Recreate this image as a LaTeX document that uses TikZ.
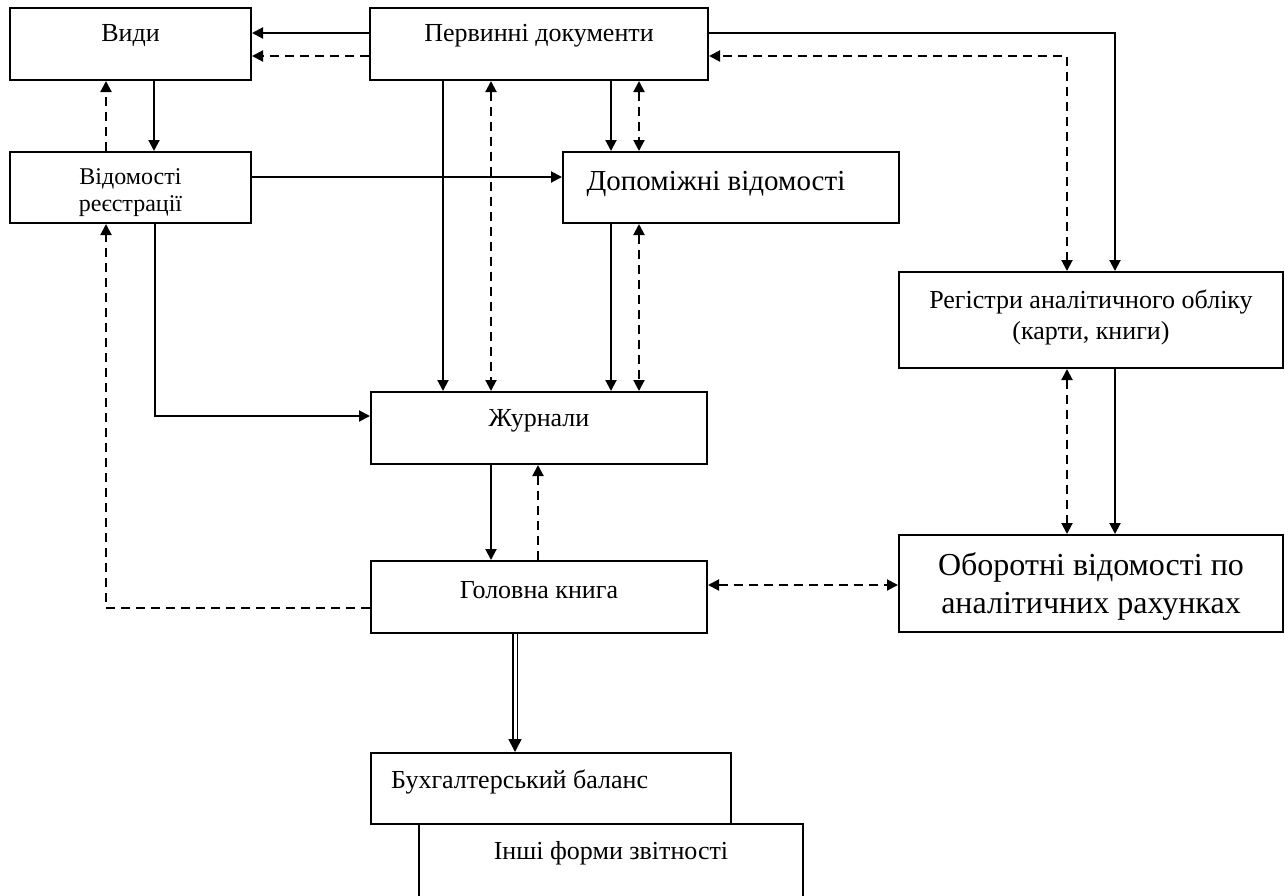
\documentclass[tikz,border=0pt]{standalone}
\usepackage{fontspec}
\setmainfont{Liberation Serif}
\usetikzlibrary{arrows.meta}
\begin{document}
\begin{tikzpicture}[x=1pt,y=-1pt,
  box/.style={draw, line width=2pt, inner sep=0pt, fill=white},
  lbl/.style={font=\fontsize{26}{31}\selectfont, align=center, inner sep=0pt},
  lbls/.style={font=\fontsize{24}{27}\selectfont, align=center, inner sep=0pt},
  big/.style={font=\fontsize{29}{40}\selectfont, align=center, inner sep=0pt},
  bigg/.style={font=\fontsize{32}{38}\selectfont, align=center, inner sep=0pt},
  tip/.tip={Triangle[length=11pt,width=11pt]},
  sol/.style={line width=2pt, -tip},
  dsh/.style={line width=2pt, dash pattern=on 9pt off 6pt, -tip},
  dshb/.style={line width=2pt, dash pattern=on 9pt off 6pt, tip-tip},
  dbl/.style={line width=1.6pt, double distance=3pt, -{Triangle[length=13pt,width=13pt]}}]
\useasboundingbox (0,0) rectangle (1288,895);
\clip (0,0) rectangle (1288,895);
\fill[white] (0,0) rectangle (1288,895);

% boxes
\node[box, minimum width=241pt, minimum height=72pt] (vidy) at (130.5,44) {};
\node[box, minimum width=338pt, minimum height=72pt] (prv) at (539,44) {};
\node[box, minimum width=241pt, minimum height=71pt] (vid) at (130.5,187.5) {};
\node[box, minimum width=336pt, minimum height=71pt] (dop) at (731,187.5) {};
\node[box, minimum width=384pt, minimum height=96pt] (reg) at (1091,320) {};
\node[box, minimum width=336pt, minimum height=72pt] (zhur) at (539,428) {};
\node[box, minimum width=336pt, minimum height=72pt] (gol) at (539,597) {};
\node[box, minimum width=384pt, minimum height=97pt] (obo) at (1091,583.5) {};
\node[box, minimum width=360pt, minimum height=71pt] (buh) at (551,788.5) {};
\node[box, minimum width=384pt, minimum height=90pt] (insh) at (611,869) {};

% texts
\node[lbl] (vidyt) at (130.5,35) {Види};
\node[lbl] (prvt) at (539,36) {Первинні документи};
\node[lbls] (vidt) at (130.5,193) {Відомості\\реєстрації};
\node[big] (dopt) at (716,184) {Допоміжні відомості};
\node[lbl] (regt) at (1091,317) {Регістри аналітичного обліку\\(карти, книги)};
\node[lbl] (zhurt) at (539,421) {Журнали};
\node[lbl] (golt) at (539,590) {Головна книга};
\node[bigg] (obot) at (1091,586) {Оборотні відомості по\\аналітичних рахунках};
\node[lbl, anchor=west] (buht) at (391,782) {Бухгалтерський баланс};
\node[lbl] (insht) at (611,853) {Інші форми звітності};

% connectors
\draw[sol] (prv.west |- 0,33) -- (vidy.east |- 0,33);
\draw[dsh] (prv.west |- 0,56) -- (vidy.east |- 0,56);
\draw[sol] (vidy.south -| 154,0) -- (vid.north -| 154,0);
\draw[dsh] (vid.north -| 106,0) -- (vidy.south -| 106,0);
\draw[sol] (vid.east |- 0,177) -- (dop.west |- 0,177);
\draw[sol] (prv.south -| 443,0) -- (zhur.north -| 443,0);
\draw[dshb] (prv.south -| 491,0) -- (zhur.north -| 491,0);
\draw[sol] (prv.south -| 611,0) -- (dop.north -| 611,0);
\draw[dshb] (prv.south -| 639,0) -- (dop.north -| 639,0);
\draw[sol] (dop.south -| 611,0) -- (zhur.north -| 611,0);
\draw[dshb] (dop.south -| 639,0) -- (zhur.north -| 639,0);
\draw[sol] (vid.south -| 155,0) |- (zhur.west |- 0,416);
\draw[dsh] (gol.west |- 0,608) -| (vid.south -| 106,0);
\draw[sol] (zhur.south -| 491,0) -- (gol.north -| 491,0);
\draw[dsh] (gol.north -| 538,0) -- (zhur.south -| 538,0);
\draw[dshb] (gol.east |- 0,585) -- (obo.west |- 0,585);
\draw[sol] (reg.south -| 1115,0) -- (obo.north -| 1115,0);
\draw[dshb] (reg.south -| 1067,0) -- (obo.north -| 1067,0);
\draw[sol] (prv.east |- 0,33) -| (reg.north -| 1115,0);
\draw[dshb] (reg.north -| 1067,0) |- (prv.east |- 0,56);
\draw[dbl] (gol.south -| 515,0) -- (buh.north -| 515,0);
\end{tikzpicture}
\end{document}
